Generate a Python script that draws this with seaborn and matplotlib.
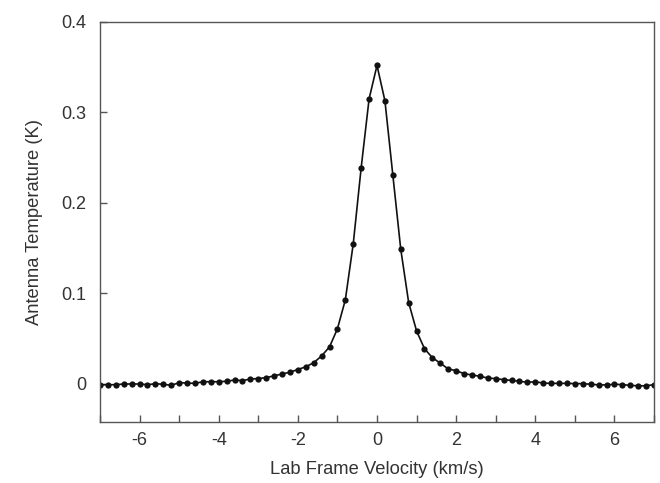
import numpy as np
import pandas as pd
import matplotlib
matplotlib.use("Agg")
import matplotlib.pyplot as plt
from matplotlib.ticker import MultipleLocator
import seaborn as sns

velocity = [round(-7.0 + 0.2 * i, 1) for i in range(71)]
temperature = [
    -0.0008, -0.0008, -0.0008, 0.0, 0.0, 0.0, -0.0008, 0.0003, -0.0003, -0.0015,
    0.0015, 0.001, 0.0007, 0.0025, 0.0025, 0.0025, 0.003, 0.0044, 0.0037, 0.0055,
    0.006, 0.007, 0.009, 0.011, 0.013, 0.016,
    0.019, 0.0235, 0.031, 0.041, 0.061, 0.093, 0.155, 0.239, 0.315,
    0.352,
    0.313, 0.231, 0.149, 0.090, 0.0586, 0.039, 0.029, 0.023, 0.0166,
    0.0147, 0.0114, 0.010, 0.0085, 0.0066, 0.0059, 0.0048, 0.004, 0.003, 0.0019,
    0.0025, 0.001, 0.0007, 0.0007, 0.0007, 0.0004, 0.0004, -0.0003, -0.001, -0.001,
    -0.0003, -0.0007, -0.0015, -0.002, -0.002, -0.0007,
]
x_ticks = [-6, -4, -2, 0, 2, 4, 6]
y_ticks = [0, 0.1, 0.2, 0.3, 0.4]
y_tick_labels = ["0", "0.1", "0.2", "0.3", "0.4"]

df = pd.DataFrame({"v": velocity, "T": temperature})

sns.set_theme(style="ticks")
plt.rcParams["font.family"] = ["Liberation Sans", "DejaVu Sans"]
plt.rcParams["axes.unicode_minus"] = False

fig = plt.figure(figsize=(6.6, 4.83), dpi=100)
ax = fig.add_axes([100 / 660, 1 - 422 / 483, 554 / 660, 400 / 483])

sns.lineplot(data=df, x="v", y="T", ax=ax, color="#111111", linewidth=1.2,
             marker="o", markersize=4.5, markeredgewidth=0, markerfacecolor="#111111")

ax.set_xlim(-7, 7)
ax.set_ylim(-0.042, 0.4)
ax.set_xticks(x_ticks)
ax.xaxis.set_minor_locator(MultipleLocator(1))
ax.set_yticks(y_ticks)
ax.set_yticklabels(y_tick_labels)

ax.tick_params(which="both", direction="in", length=5, width=1, color="#555555",
               labelsize=13, labelcolor="#333333", top=False, right=False)
ax.tick_params(axis="x", pad=7)
ax.tick_params(axis="y", pad=10)
for s in ax.spines.values():
    s.set_color("#555555")
    s.set_linewidth(1.0)
    s.set_visible(True)

ax.set_xlabel("Lab Frame Velocity (km/s)", fontsize=13.2, color="#333333", labelpad=9)
ax.set_ylabel("Antenna Temperature (K)", fontsize=13.2, color="#333333", labelpad=13)

fig.savefig("out.png", dpi=100)
